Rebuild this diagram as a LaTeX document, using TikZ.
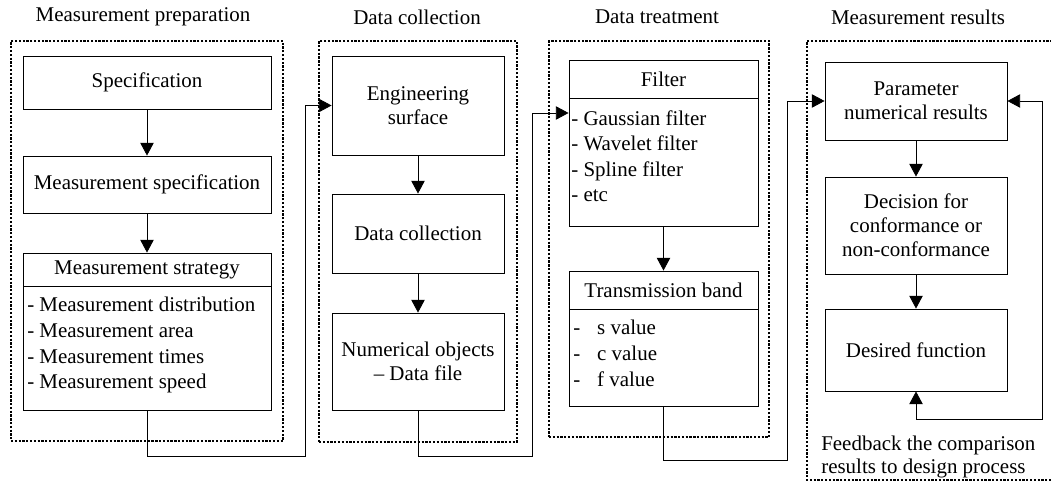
\documentclass[tikz,border=0pt]{standalone}
\usepackage{fontspec}
\setmainfont{Liberation Serif}
\usetikzlibrary{arrows.meta,fit}
\newcommand\boxfont{\fontsize{14.9}{17.2}\selectfont}
\newcommand\listfont{\fontsize{14.9}{18.2}\selectfont}
\tikzset{
  box/.style={draw, line width=0.6pt, inner sep=0pt, align=center},
  frame/.style={draw, line width=0.9pt, dash pattern=on 1.6pt off 1.1pt, inner sep=0pt},
  list/.style={anchor=north west, inner sep=0pt, align=left, font=\listfont},
  arr/.style={-{Triangle[length=9pt,width=9.5pt]}, line width=0.6pt},
  both/.style={{Triangle[length=9pt,width=9.5pt]}-{Triangle[length=9pt,width=9.5pt]}, line width=0.6pt}
}
\begin{document}
\begin{tikzpicture}[x=0.025cm, y=-0.025cm, font=\boxfont]
  \useasboundingbox (0,0) rectangle (1051,484);
  % titles
  \node (tprep) at (143,17) {Measurement preparation};
  \node (tcoll) at (417,17) {Data collection};
  \node (ttreat) at (657,17) {Data treatment};
  \node (tres) at (918,17) {Measurement results};
  % dotted frames, the last one runs off the right edge
  \node[frame, fit={(11,41) (283,441)}] (prep) {};
  \node[frame, fit={(319,41) (517,442)}] (coll) {};
  \node[frame, fit={(549,41) (769,437)}] (treat) {};
  \draw[frame] (1060,41) -| (807,480) -- (1060,480);
  % measurement preparation
  \begin{scope}[every node/.append style={minimum width=6.2cm}]
    \node[box, minimum height=1.325cm] (spec) at (147,82.5) {Specification};
    \node[box, minimum height=1.425cm] (mspec) at (147,184.5) {Measurement specification};
    \node[box, minimum height=0.825cm] (strathead) at (147,269.5) {Measurement strategy};
    \node[box, minimum height=3.1cm] (stratbody) at (147,348) {};
  \end{scope}
  \node[list] (stratlist) at (27,297) {- Measurement distribution\\- Measurement area\\- Measurement times\\- Measurement speed};
  % data collection
  \begin{scope}[every node/.append style={minimum width=4.3cm}]
    \node[box, minimum height=2.475cm] (eng) at (418,105.5) {Engineering\\surface};
    \node[box, minimum height=1.975cm] (dcoll) at (418,233.5) {Data collection};
    \node[box, minimum height=2.425cm] (numobj) at (418,361.5) {Numerical objects\\\textendash{} Data file};
  \end{scope}
  % data treatment
  \begin{scope}[every node/.append style={minimum width=4.725cm}]
    \node[box, minimum height=0.95cm] (filthead) at (663.5,79) {Filter};
    \node[box, minimum height=3.2cm] (filtbody) at (663.5,162) {};
    \node[box, minimum height=0.95cm] (bandhead) at (663.5,290) {Transmission band};
    \node[box, minimum height=2.425cm] (bandbody) at (663.5,357.5) {};
  \end{scope}
  \node[list] (filtlist) at (571,110) {- Gaussian filter\\- Wavelet filter\\- Spline filter\\- etc};
  \node[list] (bandlist) at (573,320) {\makebox[17pt][l]{-}s value\\\makebox[17pt][l]{-}c value\\\makebox[17pt][l]{-}f value};
  % measurement results
  \begin{scope}[every node/.append style={minimum width=4.55cm}]
    \node[box, minimum height=1.95cm] (param) at (916,101) {Parameter\\numerical results};
    \node[box, minimum height=2.425cm] (decis) at (916,225.5) {Decision for\\conformance or\\non-conformance};
    \node[box, minimum height=2.05cm] (desired) at (916,350) {Desired function};
  \end{scope}
  \node[anchor=north west, inner sep=0pt, align=left, font=\fontsize{14.9}{16.4}\selectfont] (fb) at (821,436) {Feedback the comparison\\results to design process};
  % arrows
  \draw[arr] (spec) -- (mspec);
  \draw[arr] (mspec) -- (strathead);
  \draw[arr] (eng) -- (dcoll);
  \draw[arr] (dcoll) -- (numobj);
  \draw[arr] (filtbody) -- (bandhead);
  \draw[arr] (param) -- (decis);
  \draw[arr] (decis) -- (desired);
  \coordinate (c1) at (305,456);
  \coordinate (c2) at (532,456);
  \coordinate (c2e) at (532,113);
  \coordinate (c3) at (787,460);
  \coordinate (c4) at (1042,419);
  \draw[arr] (stratbody.south) |- (c1) |- (eng.west);
  \draw[arr] (numobj.south) |- (c2) -- (c2e) -- (c2e -| filtbody.west);
  \draw[arr] (bandbody.south) |- (c3) |- (param.west);
  \draw[both] (desired.south) |- (c4) |- (param.east);
\end{tikzpicture}
\end{document}
